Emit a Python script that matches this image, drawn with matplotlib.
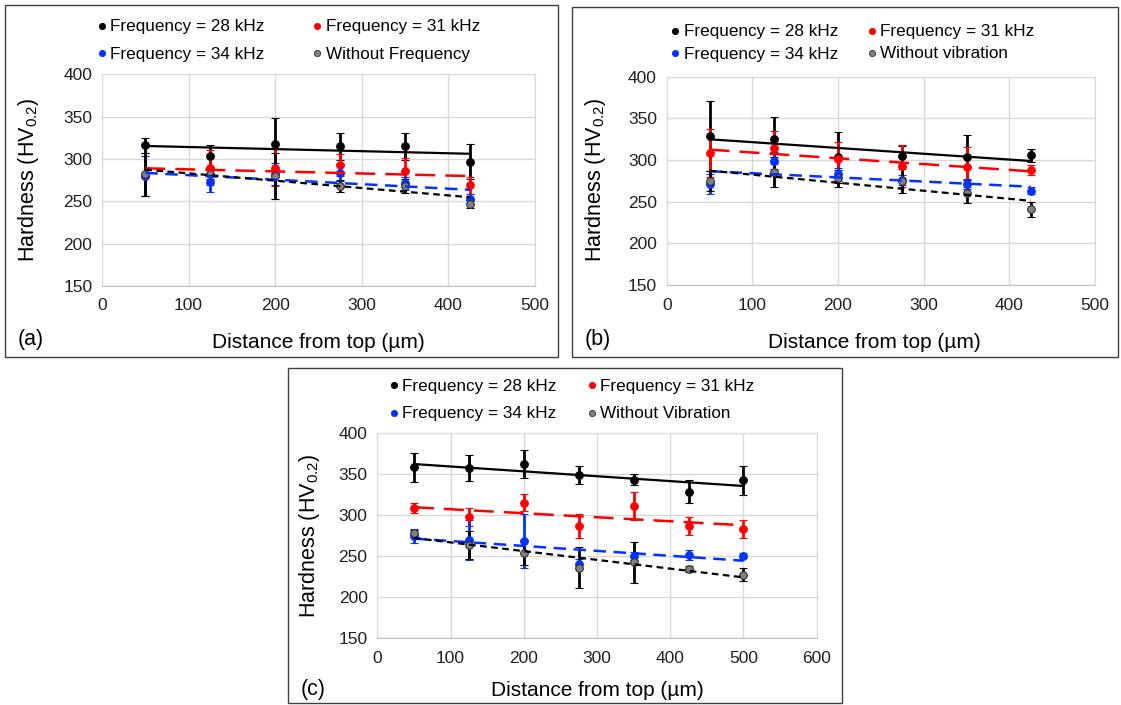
import numpy as np
import matplotlib.pyplot as plt
from matplotlib.lines import Line2D
from matplotlib.patches import Rectangle

plt.rcParams['font.family'] = ['Liberation Sans', 'DejaVu Sans']
plt.rcParams['mathtext.default'] = 'regular'

# distances (um)
x_ab = [50, 125, 200, 275, 350, 425]
x_c = [50, 125, 200, 275, 350, 425, 500]

# panel (a)
a_28 = [316.5, 303.5, 317.7, 315.4, 315.4, 296.9]
a_28_err = [9, 13, 31, 16, 16, 21]
a_31 = [280, 289.8, 289.8, 292.9, 285.8, 268.9]
a_31_err = [24, 21, 22, 13, 15, 10]
a_34 = [280, 272.4, 282.3, 283.8, 271.3, 252.4]
a_34_err = [24, 11, 13, 10, 8, 6]
a_wo = [281.9, 281.9, 280, 268.5, 268, 246.9]
a_wo_err = [25, 5, 27, 7, 8, 5]

# panel (b)
b_28 = [329.2, 325.2, 303.2, 304.8, 303.2, 305.6]
b_28_err = [42, 27, 31, 12, 27, 8]
b_31 = [308.8, 314.8, 300.8, 293.2, 291.2, 288]
b_31_err = [29, 20, 21, 25, 24, 6]
b_34 = [271.2, 299.2, 282.8, 276, 271.2, 263.2]
b_34_err = [12, 10, 8, 6, 6, 4]
b_wo = [275.2, 286, 278, 274.8, 260, 240.8]
b_wo_err = [12, 18, 10, 14, 12, 9]

# panel (c)
c_28 = [358.5, 358.1, 362.6, 349.6, 343.5, 328.9, 342.7]
c_28_err = [17.5, 16, 17, 11, 7, 14, 18]
c_31 = [309, 298.4, 315.4, 287, 311.4, 287, 283.7]
c_31_err = [6.5, 11, 10, 14.6, 17.5, 11, 11]
c_34 = [274.8, 270, 268.7, 240.2, 250.4, 252, 250.8]
c_34_err = [8, 24, 33, 6, 5, 6, 3]
c_wo = [278.9, 263.8, 254.5, 235.8, 243, 234.5, 227.6]
c_wo_err = [3, 17, 15, 25, 25, 4, 8]

labels_a = ['Frequency = 28 kHz', 'Frequency = 31 kHz', 'Frequency = 34 kHz', 'Without Frequency']
labels_b = ['Frequency = 28 kHz', 'Frequency = 31 kHz', 'Frequency = 34 kHz', 'Without vibration']
labels_c = ['Frequency = 28 kHz', 'Frequency = 31 kHz', 'Frequency = 34 kHz', 'Without Vibration']

W, H = 1121, 705
fig = plt.figure(figsize=(W / 100, H / 100), dpi=100)


def px_axes(l, r, t, b):
    return fig.add_axes([l / W, 1 - b / H, (r - l) / W, (b - t) / H])


def box(l, r, t, b):
    fig.add_artist(Rectangle((l / W, 1 - b / H), (r - l) / W, (b - t) / H,
                             transform=fig.transFigure, fill=False,
                             edgecolor='#404040', lw=1.0))


styles = [
    dict(c='black', mfc='black', mec='black', ecol='black', ls='-', lw=1.6),
    dict(c='#ff0000', mfc='#ff0000', mec='#ff0000', ecol='#ff0000', ls=(0, (8, 4)), lw=1.8),
    dict(c='#0033ff', mfc='#0033ff', mec='#0033ff', ecol='#0033ff', ls=(0, (5, 3)), lw=1.8),
    dict(c='black', mfc='#808080', mec='#303030', ecol='black', ls=(0, (3, 2)), lw=1.6),
]


def legend_entries(labels, cols_x, rows_y):
    # 2x2 layout: 28 | 31 on top, 34 | without below
    spots = [(cols_x[0], rows_y[0]), (cols_x[1], rows_y[0]),
             (cols_x[0], rows_y[1]), (cols_x[1], rows_y[1])]
    for (px, py), lab, st in zip(spots, labels, styles):
        fig.add_artist(Line2D([px / W], [1 - py / H], transform=fig.transFigure, ls='none',
                              marker='o', ms=4.5, mfc=st['mfc'], mec=st['mec'], mew=0.6))
        fig.text((px + 8.5) / W, 1 - (py + 1) / H, lab, fontsize=12.3, ha='left', va='center')


def panel(ax, x, series, errs, xmax, tag, tag_xy, xl_xy, yl_xy):
    for ys, es, st in zip(series, errs, styles):
        ax.errorbar(x, ys, yerr=es, fmt='o', ms=5.5, mfc=st['mfc'], mec=st['mec'],
                    mew=0.8, ecolor=st['ecol'], elinewidth=2, capsize=3, capthick=2, zorder=3)
        k, m = np.polyfit(x, ys, 1)
        xt = np.array([x[0], x[-1]])
        ax.plot(xt, k * xt + m, color=st['c'], ls=st['ls'], lw=st['lw'], zorder=4)
    ax.set_xlim(0, xmax)
    ax.set_ylim(150, 400)
    ax.set_xticks(np.arange(0, xmax + 1, 100))
    ax.set_yticks(np.arange(150, 401, 50))
    ax.grid(True, color='#d9d9d9', lw=1)
    ax.set_axisbelow(True)
    for s in ax.spines.values():
        s.set_color('#d9d9d9')
    ax.spines['bottom'].set_color('#bfbfbf')
    ax.tick_params(length=0, labelsize=12.5, colors='#202020')
    ax.tick_params(axis='y', pad=7)
    ax.tick_params(axis='x', pad=9)
    fig.text(tag_xy[0] / W, 1 - tag_xy[1] / H, tag, fontsize=15.5, ha='left', va='center')
    fig.text(xl_xy[0] / W, 1 - xl_xy[1] / H, 'Distance from top (µm)', fontsize=15, ha='center', va='center')
    fig.text(yl_xy[0] / W, 1 - yl_xy[1] / H, 'Hardness (HV$_{0.2}$)', fontsize=15.5,
             ha='center', va='center', rotation=90)


box(5, 558, 5, 357)
box(572, 1118, 7, 357)
box(288, 842, 368, 703)

ax_a = px_axes(102, 535, 74.5, 286)
panel(ax_a, x_ab, [a_28, a_31, a_34, a_wo], [a_28_err, a_31_err, a_34_err, a_wo_err],
      500, '(a)', (18, 340), (318, 342), (29, 180))
legend_entries(labels_a, (102, 317), (26, 53))

ax_b = px_axes(666.7, 1095, 76.7, 285)
panel(ax_b, x_ab, [b_28, b_31, b_34, b_wo], [b_28_err, b_31_err, b_34_err, b_wo_err],
      500, '(b)', (585, 340), (874, 342), (596, 180))
legend_entries(labels_b, (675, 872), (30.5, 53))

ax_c = px_axes(377.3, 816.7, 433.3, 638.3)
panel(ax_c, x_c, [c_28, c_31, c_34, c_wo], [c_28_err, c_31_err, c_34_err, c_wo_err],
      600, '(c)', (301, 689), (597, 691), (309, 536))
legend_entries(labels_c, (394, 592), (385, 413))

fig.savefig('out.png', dpi=100)
